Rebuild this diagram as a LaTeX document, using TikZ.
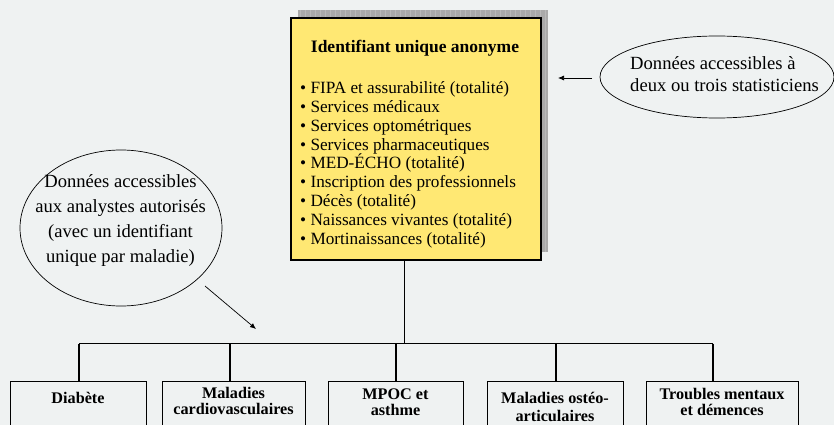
\documentclass[tikz,border=0pt]{standalone}
\usepackage{fontspec}
\setmainfont{Liberation Serif}
\usetikzlibrary{arrows.meta,shapes.geometric}
\definecolor{bgc}{RGB}{239,242,242}
\definecolor{ylw}{RGB}{255,232,115}
\definecolor{shd}{RGB}{170,170,170}
\tikzset{
  bigbox/.style={draw=black,line width=1.1pt,fill=ylw,minimum width=250pt,minimum height=242pt,inner sep=0pt},
  dbox/.style={draw=black,line width=1.2pt,fill=none,anchor=north west,inner sep=0pt},
  dlabel/.style={font=\fontsize{16.2pt}{16pt}\selectfont\bfseries,align=center},
  bubble/.style={draw=black,line width=0.7pt,ellipse,inner sep=0pt},
  btext/.style={font=\fontsize{18.6pt}{25pt}\selectfont,align=center},
  tree/.style={line width=1.5pt,draw=black},
  pointer/.style={line width=0.7pt,-{Latex[length=6pt,width=5pt]}}
}
\begin{document}
\begin{tikzpicture}[x=1pt,y=-1pt]
\useasboundingbox (0,0) rectangle (834,425);
\fill[bgc] (0,0) rectangle (834,425);
\clip (0,0) rectangle (834,425);
% shadow
\fill[shd] (298,10) rectangle (548,252);
\draw[gray!55,line width=0.4pt,step=5] (298,10) grid (548,252);
% main box
\node[bigbox] (idbox) at (416,139) {};
\node[font=\fontsize{17.5pt}{18pt}\selectfont\bfseries] (title) at (415,48) {Identifiant unique anonyme};
\node[anchor=north west,align=left,inner sep=0pt,font=\fontsize{17.2pt}{18.8pt}\selectfont] (list) at (300,81.5) {%
\textbullet{} FIPA et assurabilité (totalité)\\
\textbullet{} Services médicaux\\
\textbullet{} Services optométriques\\
\textbullet{} Services pharmaceutiques\\
\textbullet{} MED-ÉCHO (totalité)\\
\textbullet{} Inscription des professionnels\\
\textbullet{} Décès (totalité)\\
\textbullet{} Naissances vivantes (totalité)\\
\textbullet{} Mortinaissances (totalité)};
% right bubble
\node[bubble,minimum width=234pt,minimum height=82pt] (rb) at (717,77) {};
\node[font=\fontsize{18.6pt}{22pt}\selectfont,align=left] (rbt) at (724.5,74) {Données accessibles à\\deux ou trois statisticiens};
\coordinate (ra) at (592,78);
\coordinate (rt) at (558,78);
\draw[pointer] (ra) -- (rt);
% left bubble
\node[bubble,minimum width=202pt,minimum height=156pt] (lb) at (121,228) {};
\node[btext] (lbt) at (120.5,221) {Données accessibles\\aux analystes autorisés\\(avec un identifiant\\unique par maladie)};
\coordinate (la) at (205,286);
\coordinate (lt) at (256,329);
\draw[pointer] (la) -- (lt);
% tree
\coordinate (bar0) at (404,343.5);
\draw[line width=0.8pt] (idbox.south -| bar0) -- (bar0);
\draw[tree] (79,343.5) -- (713,343.5);
% bottom boxes
\node[dbox,minimum width=136pt,minimum height=60pt] (d1) at (10,381) {};
\node[dbox,minimum width=143pt,minimum height=60pt] (d2) at (162,381) {};
\node[dbox,minimum width=135pt,minimum height=60pt] (d3) at (328,381) {};
\node[dbox,minimum width=136pt,minimum height=60pt] (d4) at (487,381) {};
\node[dbox,minimum width=152pt,minimum height=60pt] (d5) at (646,381) {};
\foreach \x/\b in {79/d1,230/d2,396/d3,556/d4,713/d5}{
  \draw[tree] (\x,343.5) -- (\x,381);
}
\node[dlabel] (t1) at (78,398) {Diabète};
\node[dlabel] (t2) at (233.5,401) {Maladies\\cardiovasculaires};
\node[dlabel] (t3) at (395.5,402) {MPOC et\\asthme};
\node[dlabel,font=\fontsize{16.2pt}{18pt}\selectfont\bfseries] (t4) at (555,407) {Maladies ostéo-\\articulaires};
\node[dlabel] (t5) at (722,402) {Troubles mentaux\\et démences};
\end{tikzpicture}
\end{document}
